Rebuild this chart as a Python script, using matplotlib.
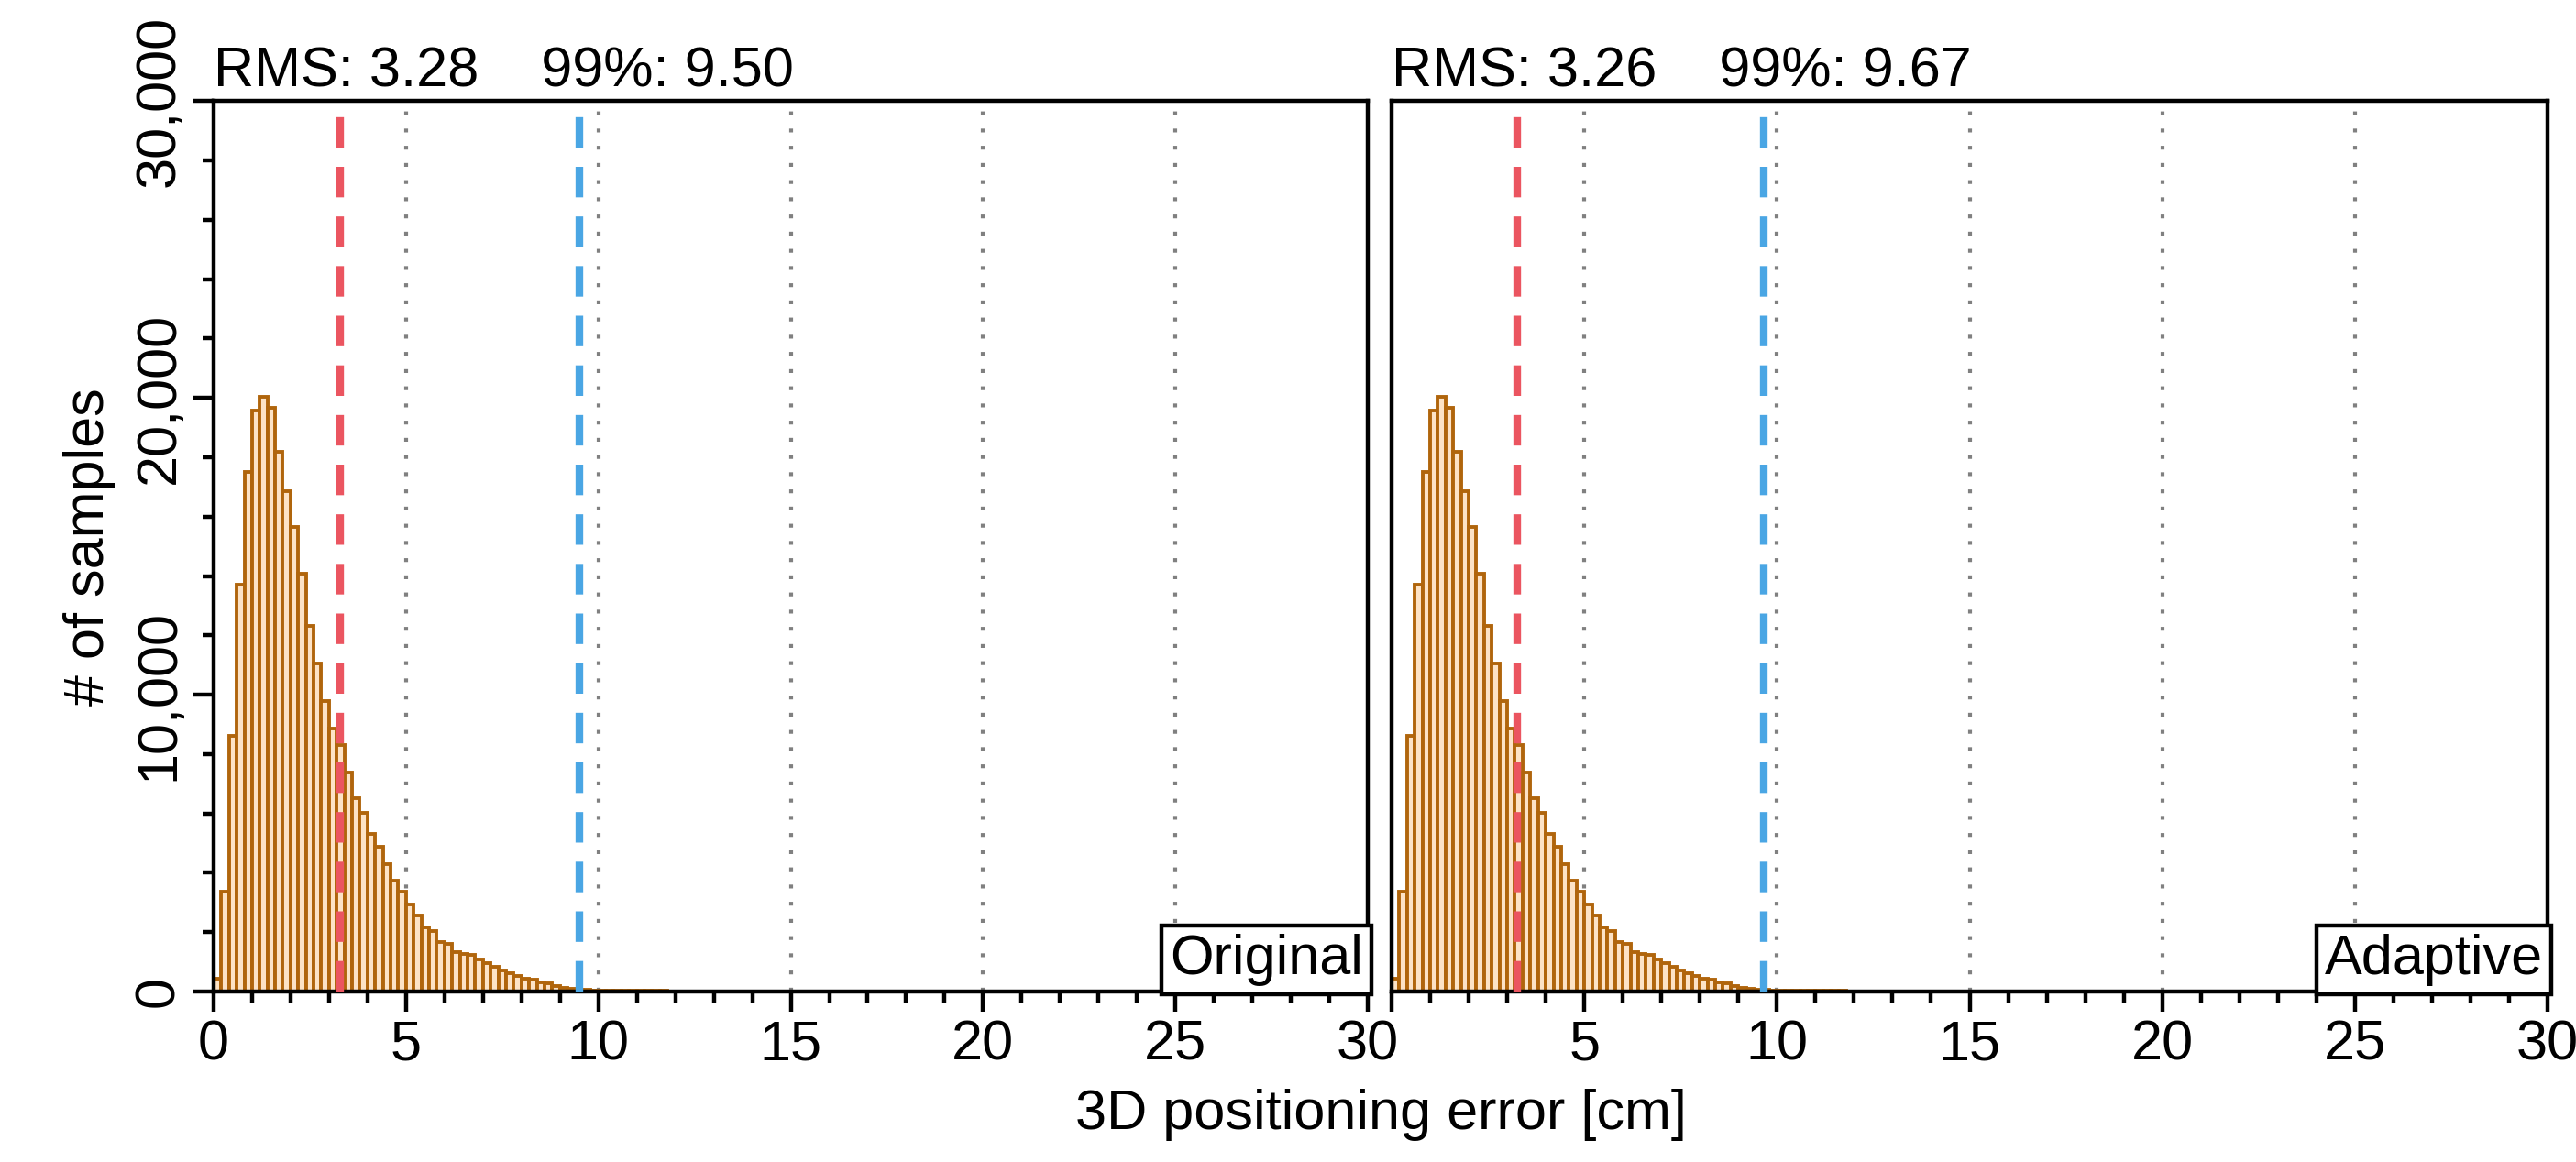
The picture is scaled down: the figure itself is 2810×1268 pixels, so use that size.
import numpy as np
import matplotlib
matplotlib.use("Agg")
import matplotlib.pyplot as plt
from matplotlib.ticker import MultipleLocator, FuncFormatter

bin_width = 0.2
counts_original = [430, 3360, 8610, 13710, 17520, 19580, 20050, 19660, 18190, 16860,
                   15640, 14090, 12330, 11040, 9800, 8850, 8320, 7390, 6510, 6010,
                   5320, 4890, 4290, 3720, 3350, 2920, 2560, 2170, 2030, 1670,
                   1600, 1320, 1270, 1240, 1070, 960, 820, 720, 630, 530,
                   430, 390, 310, 290, 170, 130, 100, 70, 50, 45,
                   40, 36, 32, 28, 25, 22, 20, 18, 16, 14,
                   12, 11, 10, 9, 8, 8, 7, 7, 6, 6,
                   5, 5, 4, 4, 4, 3, 3, 3, 2, 2,
                   2, 2, 2, 1, 1, 1, 1, 1, 1, 1,
                   1, 1, 1, 1, 1]
counts_adaptive = [430, 3360, 8610, 13710, 17520, 19580, 20050, 19660, 18190, 16860,
                   15640, 14090, 12330, 11040, 9800, 8850, 8320, 7390, 6510, 6010,
                   5320, 4890, 4290, 3720, 3350, 2920, 2560, 2170, 2030, 1670,
                   1600, 1320, 1270, 1240, 1070, 960, 820, 720, 630, 530,
                   430, 390, 310, 290, 170, 130, 100, 70, 50, 45,
                   40, 36, 32, 28, 25, 22, 20, 18, 16, 14,
                   12, 11, 10, 9, 8, 8, 7, 7, 6, 6,
                   5, 5, 4, 4, 4, 3, 3, 3, 2, 2,
                   2, 2, 2, 1, 1, 1, 1, 1, 1, 1,
                   1, 1, 1, 1, 1]
panels = ["Original", "Adaptive"]
rms_values = [3.28, 3.26]
p99_values = [9.50, 9.67]
grid_x = [5, 10, 15, 20, 25]

plt.rcParams["font.family"] = "Liberation Sans"
fig = plt.figure(figsize=(28.1, 12.68), dpi=100)
axL = fig.add_axes([0.0829, 0.1467, 0.4481, 0.7663])
axR = fig.add_axes([0.5402, 0.1467, 0.4488, 0.7663])

fs = 44
lw = 3.2
for i, (ax, counts) in enumerate(zip([axL, axR], [counts_original, counts_adaptive])):
    edges = np.arange(len(counts)) * bin_width
    ax.bar(edges, counts, width=bin_width, align="edge", color="#fde3c6",
           edgecolor="#b0650c", linewidth=2.8, zorder=2)
    for g in grid_x:
        ax.axvline(g, color="#808080", linestyle=(0, (1, 3.5)), linewidth=3, zorder=1)
    ax.axvline(rms_values[i], color="#eb5560", linestyle=(0, (4, 2.5)), linewidth=6, zorder=3)
    ax.axvline(p99_values[i], color="#4aa6e4", linestyle=(0, (4, 2.5)), linewidth=6, zorder=3)
    ax.set_xlim(0, 30)
    ax.set_ylim(0, 30000)
    for s in ax.spines.values():
        s.set_linewidth(lw)
    ax.xaxis.set_major_locator(MultipleLocator(5))
    ax.xaxis.set_minor_locator(MultipleLocator(1))
    ax.tick_params(axis="x", which="major", length=16, width=lw, labelsize=fs, direction="out", pad=6)
    ax.tick_params(axis="x", which="minor", length=9, width=lw, direction="out")
    ax.text(0.0, 1.003, f"RMS: {rms_values[i]:.2f}    99%: {p99_values[i]:.2f}",
            transform=ax.transAxes, fontsize=fs, ha="left", va="bottom")
    ax.text(0.996, 0.006, panels[i], transform=ax.transAxes, fontsize=fs, ha="right",
            va="bottom", zorder=5,
            bbox=dict(boxstyle="square,pad=0.15", fc="white", ec="black", lw=lw))

axL.yaxis.set_major_locator(MultipleLocator(10000))
axL.yaxis.set_minor_locator(MultipleLocator(2000))
axL.yaxis.set_major_formatter(FuncFormatter(lambda v, p: f"{int(v):,}"))
axL.tick_params(axis="y", which="major", length=16, width=lw, labelsize=fs, pad=6)
axL.tick_params(axis="y", which="minor", length=9, width=lw)
for lbl in axL.get_yticklabels():
    lbl.set_rotation(90)
    lbl.set_va("center")
axL.set_ylabel("# of samples", fontsize=fs, labelpad=14)

axR.set_yticks([])
axR.xaxis.set_major_formatter(FuncFormatter(lambda v, p: "" if v == 0 else f"{int(v)}"))

fig.text(0.536, 0.018, "3D positioning error [cm]", fontsize=fs, ha="center", va="bottom")
fig.savefig("out.png", dpi=100)
